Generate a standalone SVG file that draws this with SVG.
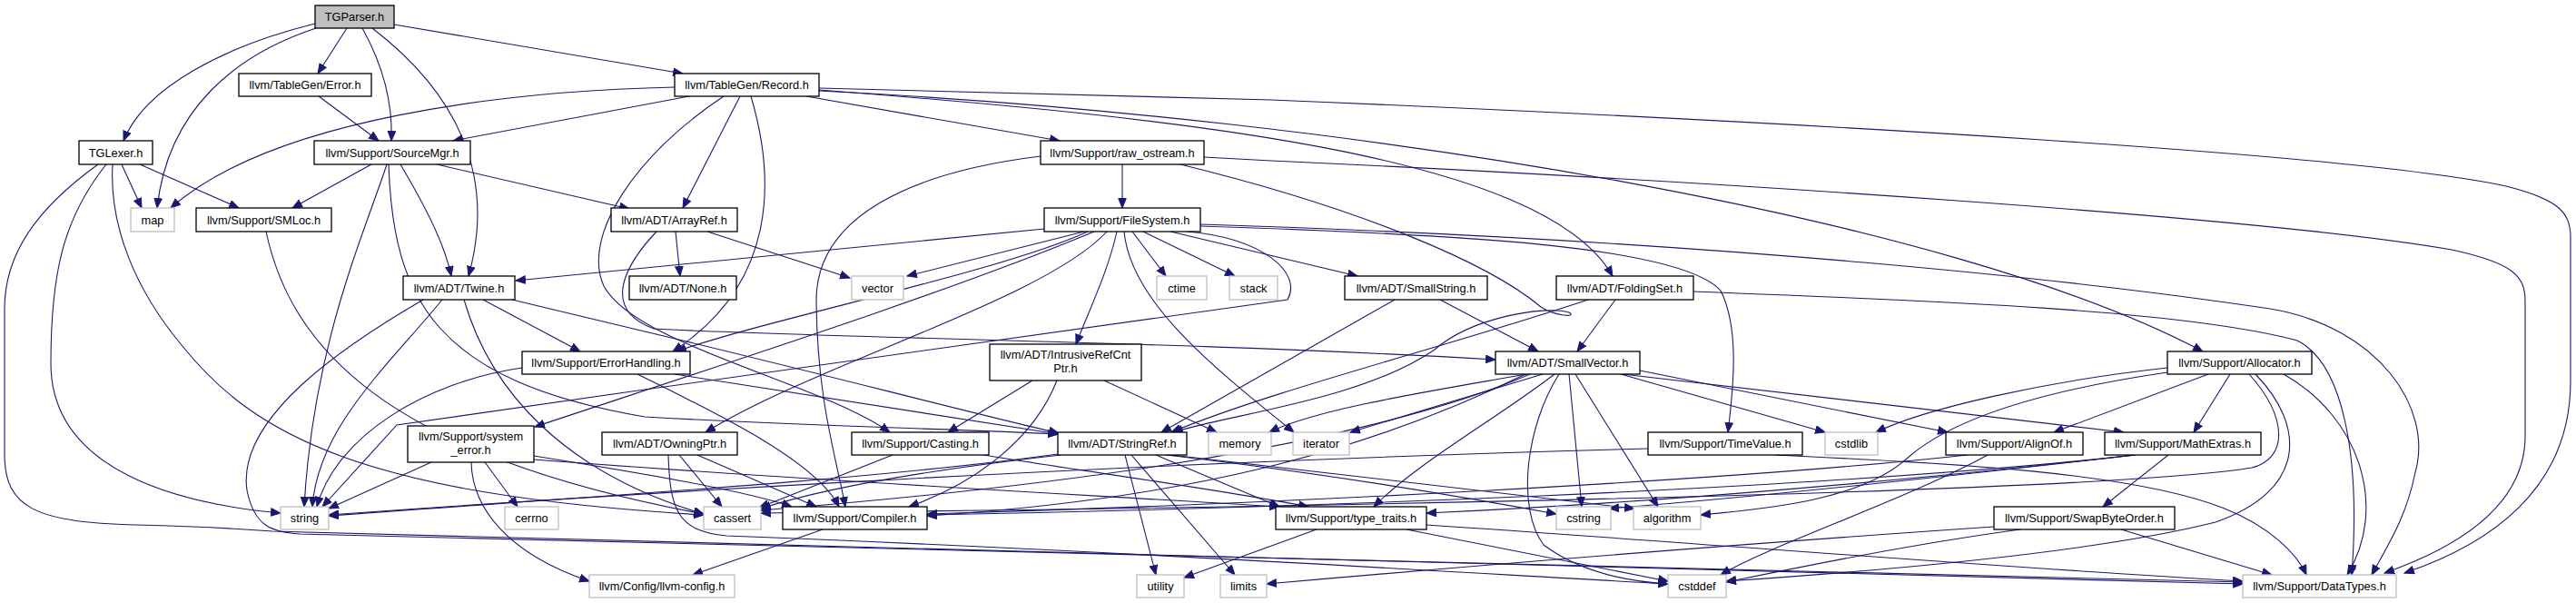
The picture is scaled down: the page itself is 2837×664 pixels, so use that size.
<svg xmlns="http://www.w3.org/2000/svg" width="2837" height="664" viewBox="0 0 2837 664">
<style>
.nd rect{fill:#fff;stroke:#000;stroke-width:1.3}
.gy rect{fill:#fff;stroke:#bfbfbf;stroke-width:1.3}
.rt rect{fill:#bfbfbf;stroke:#000;stroke-width:1.3}
text{font-family:"Liberation Sans",Arial,Helvetica,sans-serif;font-size:12.8px;text-anchor:middle;fill:#000}
#edges path{fill:none;stroke:#191970;stroke-width:1.1;marker-end:url(#ah)}
</style>
<defs>
<marker id="ah" markerWidth="12" markerHeight="10" refX="11" refY="4.75" orient="auto" markerUnits="userSpaceOnUse">
<path d="M0.5,0.5 L11,4.75 L0.5,9 z" fill="#191970" stroke="#191970" stroke-width="1"/>
</marker>
</defs>
<rect width="2837" height="664" fill="#fff"/>
<g id="edges">
<path d="M347,26 C250,50 160,95 136,155"/>
<path d="M348,31 C260,60 185,120 173,229"/>
<path d="M382,31 L350,81"/>
<path d="M399,31 C418,65 433,105 431,155"/>
<path d="M410,31 C500,100 548,190 516,304"/>
<path d="M434,27 L752,81"/>
<path d="M351,106 L417,155"/>
<path d="M743,96 C560,100 300,130 188,229"/>
<path d="M759,106 L499,155"/>
<path d="M815,106 L752,229"/>
<path d="M827,106 C852,190 860,310 741,387"/>
<path d="M797,106 C700,170 640,260 665,315 C700,380 900,420 980,476"/>
<path d="M888,106 L1167,155"/>
<path d="M902,99 C1300,130 1700,170 1776,304"/>
<path d="M902,100 C1500,130 2150,240 2426,387"/>
<path d="M902,97 L1400,110 C2000,135 2600,170 2760,205 C2820,220 2831,235 2831,262 L2831,420 C2831,540 2740,600 2648,631"/>
<path d="M1326,173 L1400,177 C1900,200 2500,240 2700,275 C2770,290 2781,305 2781,332 L2781,480 C2781,560 2700,605 2626,631"/>
<path d="M1236,181 L1236,229"/>
<path d="M1146,172 C1000,190 898,240 899,332 C900,440 920,500 931,558"/>
<path d="M1300,181 C1500,230 1640,290 1697,338 C1712,348 1738,350 1728,344 C1700,336 1620,350 1580,385 C1500,440 1360,455 1292,476"/>
<path d="M1150,252 L568,309"/>
<path d="M1194,255 L999,304"/>
<path d="M1230,255 C1220,300 1200,340 1185,379"/>
<path d="M1238,255 C1245,330 1330,400 1425,476"/>
<path d="M1247,255 L1284,304"/>
<path d="M1259,255 L1360,304"/>
<path d="M1289,255 L1495,304"/>
<path d="M1307,255 C1390,262 1435,300 1418,330 L710,429 L437,468 L355,558"/>
<path d="M1322,249 C1600,258 1850,270 1895,320 C1915,360 1910,420 1903,476"/>
<path d="M1322,247 C1900,265 2300,310 2500,340 C2620,360 2680,450 2660,520 C2650,570 2630,600 2612,633"/>
<path d="M1219,255 C1150,330 900,400 777,476"/>
<path d="M1198,255 C1100,300 850,350 745,387"/>
<path d="M1205,255 C1050,320 800,400 589,470"/>
<path d="M409,181 L322,229"/>
<path d="M426,181 C400,260 345,380 335,558"/>
<path d="M428,181 C433,330 480,420 710,459 C900,470 1050,472 1165,478"/>
<path d="M441,181 C470,230 490,270 497,304"/>
<path d="M481,181 L693,230"/>
<path d="M134,181 L156,229"/>
<path d="M154,181 L263,229"/>
<path d="M124,181 C120,250 150,320 200,380 C280,480 400,545 775,567"/>
<path d="M117,181 C70,240 56,300 56,400 C56,520 200,555 309,565"/>
<path d="M108,181 C40,230 5,280 5,340 L5,500 C5,560 40,575 150,578 C230,580 260,582 300,585 L2470,643"/>
<path d="M466,330 C380,380 260,460 272,540 C280,580 300,586 330,588 L2470,641"/>
<path d="M487,330 C430,400 350,470 344,558"/>
<path d="M511,330 C540,430 620,520 775,566"/>
<path d="M532,330 L639,387"/>
<path d="M564,330 L710,365 C900,410 1050,450 1166,477"/>
<path d="M293,255 C320,380 420,500 775,566"/>
<path d="M744,255 L749,304"/>
<path d="M779,255 L936,306"/>
<path d="M723,255 C690,290 660,340 720,362 C900,372 1300,376 1647,396"/>
<path d="M575,405 C470,420 370,480 349,558"/>
<path d="M702,412 C800,460 900,510 924,558"/>
<path d="M743,412 L1166,478"/>
<path d="M1137,419 L1044,476"/>
<path d="M1164,419 C1140,480 1080,530 1001,558"/>
<path d="M1216,419 L1340,476"/>
<path d="M748,501 L795,558"/>
<path d="M768,501 L899,558"/>
<path d="M736,501 C738,560 745,585 800,590 C1200,605 1600,630 1837,643"/>
<path d="M983,501 L836,559"/>
<path d="M1083,501 C1200,520 1350,540 1441,558"/>
<path d="M1168,501 C1000,520 900,540 838,560"/>
<path d="M1165,500 C950,530 600,550 362,568"/>
<path d="M1239,501 L1273,633"/>
<path d="M1246,501 L1360,633"/>
<path d="M1273,501 L1409,558"/>
<path d="M1284,501 C1450,520 1600,545 1714,566"/>
<path d="M1290,501 C1500,525 1700,550 1800,560"/>
<path d="M1586,330 L1694,387"/>
<path d="M1536,330 L1279,476"/>
<path d="M1779,330 L1737,387"/>
<path d="M1749,330 C1600,380 1400,430 1290,476"/>
<path d="M1865,321 C2100,330 2400,340 2530,375 C2580,400 2600,500 2590,633"/>
<path d="M1681,412 C1580,430 1450,450 1398,476"/>
<path d="M1699,412 L1487,476"/>
<path d="M1685,412 C1550,470 1300,525 837,562"/>
<path d="M1680,412 C1500,500 1300,550 1021,568"/>
<path d="M1712,412 C1650,460 1560,510 1513,558"/>
<path d="M1717,412 C1680,470 1670,560 1700,600 C1740,630 1790,640 1837,643"/>
<path d="M1728,412 L1742,558"/>
<path d="M1735,412 L1826,558"/>
<path d="M1785,412 L2010,476"/>
<path d="M1787,412 L2339,476"/>
<path d="M1806,408 L2145,476"/>
<path d="M1815,494 C1200,510 600,550 362,567"/>
<path d="M1955,501 C2150,510 2350,520 2450,560 C2500,580 2530,610 2540,633"/>
<path d="M2387,405 C2250,420 2120,450 2066,476"/>
<path d="M2387,410 C2250,430 2150,460 2100,505 C2050,550 1950,560 1873,567"/>
<path d="M2432,412 L2262,476"/>
<path d="M2456,412 L2416,476"/>
<path d="M2477,412 C2520,460 2520,505 2480,515 C2300,545 1300,560 838,565"/>
<path d="M2484,412 C2540,470 2540,540 2440,575 C2300,610 2050,630 1901,640"/>
<path d="M2515,412 C2600,460 2630,560 2585,633"/>
<path d="M2167,501 C1900,530 1400,555 1021,566"/>
<path d="M2189,501 C2100,550 1950,600 1895,633"/>
<path d="M2352,501 C2000,540 1400,560 1021,567"/>
<path d="M2350,501 C2100,530 1800,555 1571,565"/>
<path d="M2352,501 C2100,530 1900,550 1772,560"/>
<path d="M2388,501 L2316,558"/>
<path d="M1571,578 C1900,600 2200,625 2470,640"/>
<path d="M1549,583 L1837,640"/>
<path d="M1450,583 L1304,636"/>
<path d="M2196,580 C1900,600 1600,625 1395,643"/>
<path d="M2225,583 C2100,600 1980,625 1901,641"/>
<path d="M2336,583 L2502,633"/>
<path d="M475,509 L362,560"/>
<path d="M534,509 L570,558"/>
<path d="M519,509 C520,560 560,610 649,640"/>
<path d="M588,502 C700,520 820,540 872,558"/>
<path d="M588,506 C900,530 1200,545 1409,558"/>
<path d="M906,583 L763,633"/>
</g>
<g id="n_TGParser" class="rt"><rect x="347" y="6" width="87" height="25"/><text x="390.5" y="23">TGParser.h</text></g>
<g id="n_Error" class="nd"><rect x="263" y="81" width="146" height="25"/><text x="336" y="98">llvm/TableGen/Error.h</text></g>
<g id="n_Record" class="nd"><rect x="743" y="81" width="159" height="25"/><text x="822.5" y="98">llvm/TableGen/Record.h</text></g>
<g id="n_TGLexer" class="nd"><rect x="87" y="155" width="81" height="26"/><text x="127.5" y="172.5">TGLexer.h</text></g>
<g id="n_SourceMgr" class="nd"><rect x="346" y="155" width="172" height="26"/><text x="432" y="172.5">llvm/Support/SourceMgr.h</text></g>
<g id="n_raw_ostream" class="nd"><rect x="1146" y="155" width="180" height="26"/><text x="1236" y="172.5">llvm/Support/raw_ostream.h</text></g>
<g id="n_map" class="gy"><rect x="144" y="229" width="48" height="26"/><text x="168" y="246.5">map</text></g>
<g id="n_SMLoc" class="nd"><rect x="216" y="229" width="149" height="26"/><text x="290.5" y="246.5">llvm/Support/SMLoc.h</text></g>
<g id="n_ArrayRef" class="nd"><rect x="673" y="229" width="139" height="26"/><text x="742.5" y="246.5">llvm/ADT/ArrayRef.h</text></g>
<g id="n_FileSystem" class="nd"><rect x="1150" y="229" width="172" height="26"/><text x="1236" y="246.5">llvm/Support/FileSystem.h</text></g>
<g id="n_Twine" class="nd"><rect x="444" y="304" width="123" height="26"/><text x="505.5" y="321.5">llvm/ADT/Twine.h</text></g>
<g id="n_None" class="nd"><rect x="693" y="304" width="118" height="26"/><text x="752" y="321.5">llvm/ADT/None.h</text></g>
<g id="n_vector" class="gy"><rect x="938" y="304" width="57" height="26"/><text x="966.5" y="321.5">vector</text></g>
<g id="n_ctime" class="gy"><rect x="1274" y="304" width="55" height="26"/><text x="1301.5" y="321.5">ctime</text></g>
<g id="n_stack" class="gy"><rect x="1354" y="304" width="53" height="26"/><text x="1380.5" y="321.5">stack</text></g>
<g id="n_SmallString" class="nd"><rect x="1481" y="304" width="157" height="26"/><text x="1559.5" y="321.5">llvm/ADT/SmallString.h</text></g>
<g id="n_FoldingSet" class="nd"><rect x="1714" y="304" width="151" height="26"/><text x="1789.5" y="321.5">llvm/ADT/FoldingSet.h</text></g>
<g id="n_ErrorHandling" class="nd"><rect x="575" y="387" width="185" height="25"/><text x="667.5" y="404">llvm/Support/ErrorHandling.h</text></g>
<g id="n_IntrusiveRefCntPtr" class="nd"><rect x="1090" y="379" width="167" height="40"/><text x="1173.5" y="394.5">llvm/ADT/IntrusiveRefCnt</text><text x="1173.5" y="409.5">Ptr.h</text></g>
<g id="n_SmallVector" class="nd"><rect x="1647" y="387" width="159" height="25"/><text x="1726.5" y="404">llvm/ADT/SmallVector.h</text></g>
<g id="n_Allocator" class="nd"><rect x="2387" y="387" width="159" height="25"/><text x="2466.5" y="404">llvm/Support/Allocator.h</text></g>
<g id="n_system_error" class="nd"><rect x="449" y="469" width="139" height="40"/><text x="518.5" y="484.5">llvm/Support/system</text><text x="518.5" y="499.5">_error.h</text></g>
<g id="n_OwningPtr" class="nd"><rect x="663" y="476" width="149" height="25"/><text x="737.5" y="493">llvm/ADT/OwningPtr.h</text></g>
<g id="n_Casting" class="nd"><rect x="938" y="476" width="151" height="25"/><text x="1013.5" y="493">llvm/Support/Casting.h</text></g>
<g id="n_StringRef" class="nd"><rect x="1165" y="476" width="142" height="25"/><text x="1236" y="493">llvm/ADT/StringRef.h</text></g>
<g id="n_memory" class="gy"><rect x="1331" y="476" width="69" height="25"/><text x="1365.5" y="493">memory</text></g>
<g id="n_iterator" class="gy"><rect x="1424" y="476" width="62" height="25"/><text x="1455" y="493">iterator</text></g>
<g id="n_TimeValue" class="nd"><rect x="1815" y="476" width="170" height="25"/><text x="1900" y="493">llvm/Support/TimeValue.h</text></g>
<g id="n_cstdlib" class="gy"><rect x="2010" y="476" width="58" height="25"/><text x="2039" y="493">cstdlib</text></g>
<g id="n_AlignOf" class="nd"><rect x="2143" y="476" width="151" height="25"/><text x="2218.5" y="493">llvm/Support/AlignOf.h</text></g>
<g id="n_MathExtras" class="nd"><rect x="2318" y="476" width="172" height="25"/><text x="2404" y="493">llvm/Support/MathExtras.h</text></g>
<g id="n_string" class="gy"><rect x="309" y="558" width="53" height="25"/><text x="335.5" y="575">string</text></g>
<g id="n_cerrno" class="gy"><rect x="556" y="558" width="59" height="25"/><text x="585.5" y="575">cerrno</text></g>
<g id="n_cassert" class="gy"><rect x="775" y="558" width="63" height="25"/><text x="806.5" y="575">cassert</text></g>
<g id="n_Compiler" class="nd"><rect x="862" y="558" width="159" height="25"/><text x="941.5" y="575">llvm/Support/Compiler.h</text></g>
<g id="n_type_traits" class="nd"><rect x="1405" y="558" width="166" height="25"/><text x="1488" y="575">llvm/Support/type_traits.h</text></g>
<g id="n_cstring" class="gy"><rect x="1714" y="558" width="60" height="25"/><text x="1744" y="575">cstring</text></g>
<g id="n_algorithm" class="gy"><rect x="1799" y="558" width="74" height="25"/><text x="1836" y="575">algorithm</text></g>
<g id="n_SwapByteOrder" class="nd"><rect x="2196" y="558" width="199" height="25"/><text x="2295.5" y="575">llvm/Support/SwapByteOrder.h</text></g>
<g id="n_llvm_config" class="gy"><rect x="649" y="633" width="160" height="25"/><text x="729" y="650">llvm/Config/llvm-config.h</text></g>
<g id="n_utility" class="gy"><rect x="1252" y="633" width="52" height="25"/><text x="1278" y="650">utility</text></g>
<g id="n_limits" class="gy"><rect x="1344" y="633" width="51" height="25"/><text x="1369.5" y="650">limits</text></g>
<g id="n_cstddef" class="gy"><rect x="1837" y="633" width="64" height="25"/><text x="1869" y="650">cstddef</text></g>
<g id="n_DataTypes" class="gy"><rect x="2470" y="633" width="169" height="25"/><text x="2554.5" y="650">llvm/Support/DataTypes.h</text></g>
</svg>
